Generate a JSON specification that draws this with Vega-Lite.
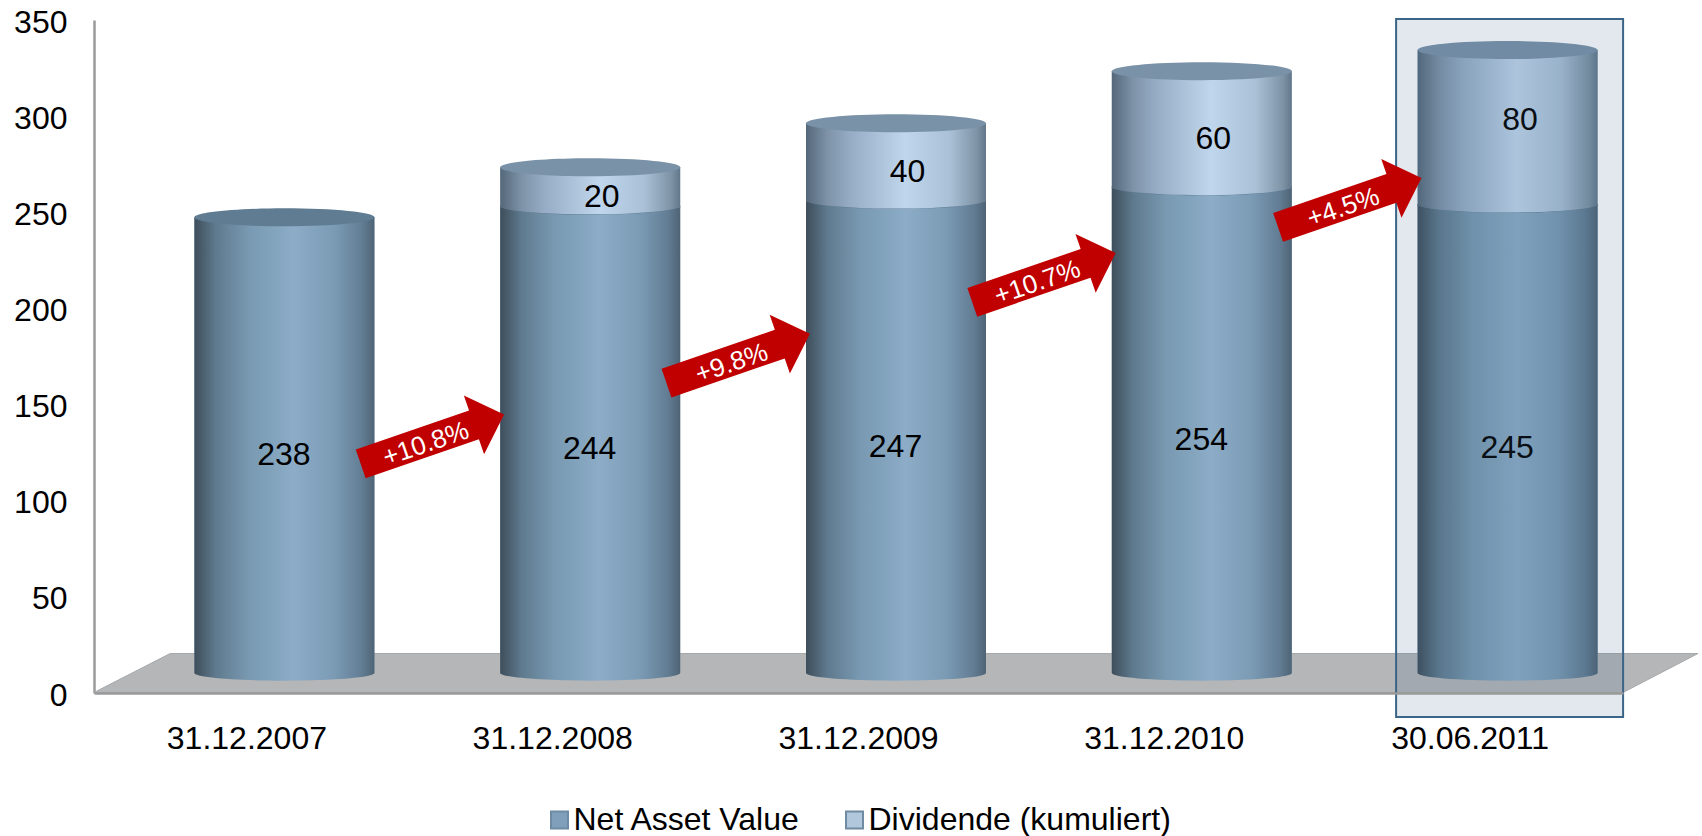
{
  "$schema": "https://vega.github.io/schema/vega-lite/v6.json",
  "autosize": {"type": "none"},
  "padding": {"left": 94, "top": 20, "right": 79, "bottom": 143},
  "width": 1529,
  "height": 673,
  "background": "white",
  "config": {
    "view": {"stroke": null},
    "font": "Liberation Sans",
    "text": {"font": "Liberation Sans"}
  },
  "datasets": {
    "cylinders": [
      {"date": "31.12.2007", "series": "Net Asset Value", "value": 238},
      {"date": "31.12.2008", "series": "Net Asset Value", "value": 244},
      {"date": "31.12.2009", "series": "Net Asset Value", "value": 247},
      {"date": "31.12.2010", "series": "Net Asset Value", "value": 254},
      {"date": "30.06.2011", "series": "Net Asset Value", "value": 245},
      {"date": "31.12.2008", "series": "Dividende (kumuliert)", "value": 20},
      {"date": "31.12.2009", "series": "Dividende (kumuliert)", "value": 40},
      {"date": "31.12.2010", "series": "Dividende (kumuliert)", "value": 60},
      {"date": "30.06.2011", "series": "Dividende (kumuliert)", "value": 80}
    ],
    "growth": [
      {"date": "31.12.2007", "label": "+10.8%", "level": 132},
      {"date": "31.12.2008", "label": "+9.8%", "level": 174},
      {"date": "31.12.2009", "label": "+10.7%", "level": 216},
      {"date": "31.12.2010", "label": "+4.5%", "level": 255}
    ]
  },
  "layer": [
    {
      "name": "floor",
      "data": {"values": [{"date": "31.12.2009", "level": 10.4}]},
      "mark": {
        "type": "point",
        "filled": true,
        "opacity": 1,
        "fill": "#b4b6b8",
        "stroke": "#a6a8aa",
        "strokeWidth": 1,
        "shape": "M-1,0.0243 L-0.905,-0.0243 L1,-0.0243 L0.9065,0.0243 Z",
        "size": 2572816,
        "xOffset": 37.5
      },
      "encoding": {
        "x": {
          "field": "date",
          "type": "nominal",
          "title": null,
          "scale": {
            "domain": ["31.12.2007", "31.12.2008", "31.12.2009", "31.12.2010", "30.06.2011"],
            "paddingInner": 0,
            "paddingOuter": 0
          },
          "axis": {
            "title": null,
            "labelAngle": 0,
            "labelFontSize": 32,
            "labelFont": "Liberation Sans",
            "labelColor": "#000000",
            "labelPadding": 45,
            "labelBaseline": "middle",
            "ticks": false,
            "domainColor": "#9a9a9a",
            "domainWidth": 2.5,
            "grid": false,
            "zindex": 1
          }
        },
        "y": {
          "field": "level",
          "type": "quantitative",
          "title": null,
          "scale": {"domain": [0, 350], "nice": false},
          "axis": {
            "title": null,
            "values": [0, 50, 100, 150, 200, 250, 300, 350],
            "labelFontSize": 32,
            "labelFont": "Liberation Sans",
            "labelColor": "#000000",
            "labelPadding": 27,
            "labelOffset": 2,
            "ticks": false,
            "grid": false,
            "domainColor": "#9a9a9a",
            "domainWidth": 2.5
          }
        }
      }
    },
    {
      "name": "cylinderStack",
      "data": {"name": "cylinders"},
      "transform": [
        {"stack": "value", "groupby": ["date"], "sort": [{"field": "series", "order": "descending"}], "as": ["y0", "y1"]},
        {"calculate": "(datum.y0 + datum.y1) / 2", "as": "mid"}
      ],
      "encoding": {
        "x": {"field": "date", "type": "nominal", "title": null}
      },
      "layer": [
        {
          "name": "legendSource",
          "mark": {"type": "bar", "width": 180, "xOffset": 37.5, "yOffset": -18, "y2Offset": -20},
          "encoding": {
            "y": {"field": "y1", "type": "quantitative", "title": null},
            "y2": {"field": "y0"},
            "color": {
              "field": "series",
              "type": "nominal",
              "scale": {
                "domain": ["Net Asset Value", "Dividende (kumuliert)"],
                "range": ["#7f9fbb", "#b1c8dc"]
              },
              "legend": {
                "orient": "none",
                "legendX": 449.5,
                "legendY": 784,
                "direction": "horizontal",
                "title": null,
                "padding": 0,
                "labelFontSize": 32,
                "labelFont": "Liberation Sans",
                "labelColor": "#000000",
                "labelLimit": 500,
                "labelOffset": -2,
                "columnPadding": 37,
                "symbolType": "square",
                "symbolSize": 289,
                "symbolStrokeColor": "#6f8aa3",
                "symbolStrokeWidth": 2
              }
            }
          }
        },
        {
          "name": "navBody",
          "transform": [{"filter": "datum.series === 'Net Asset Value'"}],
          "layer": [
            {
              "mark": {
                "type": "point", "filled": true, "opacity": 1, "strokeWidth": 0,
                "shape": "M-1,0 A1,0.085 0 0 0 1,0 Z", "size": 32400, "xOffset": 37.5, "yOffset": -20,
                "fill": {"gradient": "linear", "x1": 0, "y1": 0, "x2": 1, "y2": 0, "stops": [
                  {"offset": 0, "color": "#3e4e5b"}, {"offset": 0.12, "color": "#5f7a8e"},
                  {"offset": 0.3, "color": "#7899b1"}, {"offset": 0.55, "color": "#8cacc7"},
                  {"offset": 0.77, "color": "#7c9cb6"}, {"offset": 0.93, "color": "#627d94"},
                  {"offset": 1, "color": "#4f6475"}]}
              },
              "encoding": {"y": {"field": "y0", "type": "quantitative", "title": null}}
            },
            {
              "mark": {
                "type": "bar", "width": 180, "xOffset": 37.5, "yOffset": -18, "y2Offset": -20,
                "fill": {"gradient": "linear", "x1": 0, "y1": 0, "x2": 1, "y2": 0, "stops": [
                  {"offset": 0, "color": "#3e4e5b"}, {"offset": 0.12, "color": "#5f7a8e"},
                  {"offset": 0.3, "color": "#7899b1"}, {"offset": 0.55, "color": "#8cacc7"},
                  {"offset": 0.77, "color": "#7c9cb6"}, {"offset": 0.93, "color": "#627d94"},
                  {"offset": 1, "color": "#4f6475"}]}
              },
              "encoding": {
                "y": {"field": "y1", "type": "quantitative", "title": null},
                "y2": {"field": "y0"}
              }
            },
            {
              "mark": {
                "type": "point", "filled": true, "opacity": 1, "strokeWidth": 0, "fill": "#5f7c93",
                "shape": "M-1,0 A1,0.1 0 0 1 1,0 A1,0.1 0 0 1 -1,0 Z", "size": 32400, "xOffset": 37.5, "yOffset": -18
              },
              "encoding": {"y": {"field": "y1", "type": "quantitative", "title": null}}
            }
          ]
        },
        {
          "name": "dividendBody",
          "transform": [{"filter": "datum.series !== 'Net Asset Value'"}],
          "layer": [
            {
              "mark": {
                "type": "point", "filled": true, "opacity": 1, "strokeWidth": 0,
                "shape": "M-1,0 A1,0.095 0 0 0 1,0 Z", "size": 32400, "xOffset": 37.5, "yOffset": -18,
                "fill": {"gradient": "linear", "x1": 0, "y1": 0, "x2": 1, "y2": 0, "stops": [
                  {"offset": 0, "color": "#55687a"}, {"offset": 0.12, "color": "#7e93a8"},
                  {"offset": 0.25, "color": "#97adc6"}, {"offset": 0.55, "color": "#c0d6ec"},
                  {"offset": 0.8, "color": "#a9c0d6"}, {"offset": 0.95, "color": "#7e93a5"},
                  {"offset": 1, "color": "#62788a"}]}
              },
              "encoding": {"y": {"field": "y0", "type": "quantitative", "title": null}}
            },
            {
              "mark": {
                "type": "bar", "width": 180, "xOffset": 37.5, "yOffset": -18, "y2Offset": -16,
                "fill": {"gradient": "linear", "x1": 0, "y1": 0, "x2": 1, "y2": 0, "stops": [
                  {"offset": 0, "color": "#55687a"}, {"offset": 0.12, "color": "#7e93a8"},
                  {"offset": 0.25, "color": "#97adc6"}, {"offset": 0.55, "color": "#c0d6ec"},
                  {"offset": 0.8, "color": "#a9c0d6"}, {"offset": 0.95, "color": "#7e93a5"},
                  {"offset": 1, "color": "#62788a"}]}
              },
              "encoding": {
                "y": {"field": "y1", "type": "quantitative", "title": null},
                "y2": {"field": "y0"}
              }
            },
            {
              "mark": {
                "type": "point", "filled": true, "opacity": 1, "strokeWidth": 0, "fill": "#7a92a8",
                "shape": "M-1,0 A1,0.1 0 0 1 1,0 A1,0.1 0 0 1 -1,0 Z", "size": 32400, "xOffset": 37.5, "yOffset": -18
              },
              "encoding": {"y": {"field": "y1", "type": "quantitative", "title": null}}
            }
          ]
        },
        {
          "name": "navLabels",
          "transform": [{"filter": "datum.series === 'Net Asset Value'"}],
          "mark": {"type": "text", "fontSize": 32, "color": "#000000", "xOffset": 37, "yOffset": -9, "baseline": "middle"},
          "encoding": {
            "y": {"field": "mid", "type": "quantitative", "title": null},
            "text": {"field": "value", "type": "quantitative"}
          }
        },
        {
          "name": "dividendLabels",
          "transform": [{"filter": "datum.series !== 'Net Asset Value' && datum.date !== '30.06.2011'"}],
          "mark": {"type": "text", "fontSize": 32, "color": "#000000", "xOffset": 49, "yOffset": -8, "baseline": "middle"},
          "encoding": {
            "y": {"field": "mid", "type": "quantitative", "title": null},
            "text": {"field": "value", "type": "quantitative"}
          }
        },
        {
          "name": "latestDividendLabel",
          "transform": [{"filter": "datum.series !== 'Net Asset Value' && datum.date === '30.06.2011'"}],
          "mark": {"type": "text", "fontSize": 32, "color": "#000000", "xOffset": 50, "yOffset": -25, "baseline": "middle"},
          "encoding": {
            "y": {"field": "mid", "type": "quantitative", "title": null},
            "text": {"field": "value", "type": "quantitative"}
          }
        }
      ]
    },
    {
      "name": "highlight",
      "data": {"values": [{"date": "30.06.2011", "top": 350.5, "bottom": -12.5}]},
      "mark": {
        "type": "bar", "width": 227, "xOffset": 39.5,
        "fill": "#3b6489", "fillOpacity": 0.15,
        "stroke": "#3b6489", "strokeWidth": 2, "strokeOpacity": 1
      },
      "encoding": {
        "x": {"field": "date", "type": "nominal", "title": null},
        "y": {"field": "top", "type": "quantitative", "title": null},
        "y2": {"field": "bottom"}
      }
    },
    {
      "name": "growthArrows",
      "data": {"name": "growth"},
      "encoding": {
        "x": {"field": "date", "type": "nominal", "title": null},
        "y": {"field": "level", "type": "quantitative", "title": null}
      },
      "layer": [
        {
          "mark": {
            "type": "point", "filled": true, "opacity": 1, "strokeWidth": 0, "fill": "#c00000",
            "shape": "M-1,-0.2 L0.58,-0.2 L0.58,-0.41 L1,0 L0.58,0.41 L0.58,0.2 L-1,0.2 Z",
            "size": 23000, "angle": -19, "xOffset": 185.5
          }
        },
        {
          "mark": {"type": "text", "fontSize": 26, "color": "#ffffff", "angle": 341, "xOffset": 179, "yOffset": 5, "baseline": "middle"},
          "encoding": {"text": {"field": "label", "type": "nominal"}}
        }
      ]
    }
  ]
}
